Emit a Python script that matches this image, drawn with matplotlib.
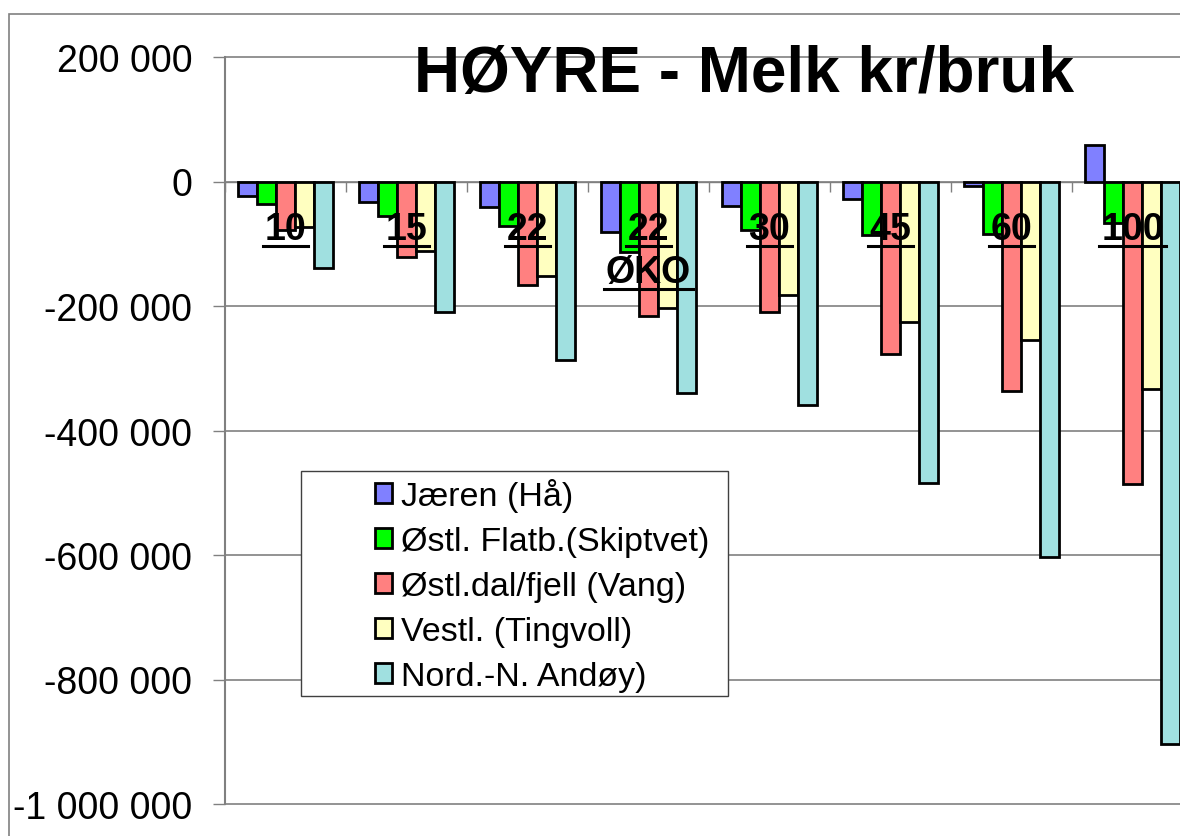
import matplotlib
matplotlib.use("Agg")
import matplotlib.pyplot as plt
import numpy as np
from matplotlib.lines import Line2D
from matplotlib.patches import Rectangle
from matplotlib.transforms import IdentityTransform

plt.rcParams['font.family'] = ['Liberation Sans', 'DejaVu Sans']

# data (kr/bruk)
categories = ["10", "15", "22", "22\nØKO", "30", "45", "60", "100"]
series_names = ["Jæren (Hå)", "Østl. Flatb.(Skiptvet)", "Østl.dal/fjell (Vang)",
                "Vestl. (Tingvoll)", "Nord.-N. Andøy)"]
jaeren = [-23600, -33200, -40700, -81400, -38600, -27800, -7500, 58300]
ostl_flatb = [-35400, -55700, -70700, -113600, -78700, -85700, -83600, -66000]
ostl_dal = [-78200, -121000, -166600, -216400, -210000, -277000, -336000, -486000]
vestl = [-73400, -112000, -152100, -203000, -181600, -225000, -255000, -333000]
nord_n = [-138700, -209400, -287500, -340000, -359000, -484000, -603000, -904000]
series = [jaeren, ostl_flatb, ostl_dal, vestl, nord_n]
colors = ["#8080FF", "#00FF00", "#FF8080", "#FFFFC0", "#A0E0E0"]
title = "HØYRE - Melk kr/bruk"

W, H = 1180, 837
fig = plt.figure(figsize=(W / 100, H / 100), dpi=100)
ax = fig.add_axes([225 / W, 1 - 805 / H, (1193 - 225) / W, (805 - 58) / H])

x = np.arange(len(categories))
width = 0.157
bars = []
for k, (vals, col, name) in enumerate(zip(series, colors, series_names)):
    b = ax.bar(x + (k - 2) * width, vals, width, color=col, edgecolor="black",
               linewidth=2, label=name, zorder=3)
    bars.append(b)

ax.set_xlim(-0.5, len(categories) - 0.5)
ax.set_ylim(-1000000, 200000)
yt = np.arange(-1000000, 200001, 200000)
ax.set_yticks(yt)
ax.set_yticklabels([f"{v:,.0f}".replace(",", " ") for v in yt])
ax.set_xticks(np.arange(-0.5, len(categories), 1))
ax.set_xticklabels([])

ax.yaxis.grid(True, color="#808080", linewidth=1.2)
ax.set_axisbelow(True)
for gl in ax.get_ygridlines():
    gl.set_clip_on(False)
for s in ["top", "right"]:
    ax.spines[s].set_visible(False)
ax.spines["left"].set_color("#808080")
ax.spines["left"].set_linewidth(1.5)
ax.spines["bottom"].set_position(("data", 0))
ax.spines["bottom"].set_color("#808080")
ax.spines["bottom"].set_linewidth(1)
ax.tick_params(axis="y", direction="out", length=8.6, width=1, color="#808080",
               pad=15, labelsize=27)
ax.tick_params(axis="x", direction="out", length=7.2, width=1, color="#808080")

fig.text(743.5 / W, 1 - 92 / H, title, ha="center", va="baseline",
         fontsize=46, fontweight="bold")

# category labels, underlined
cat_texts = []
for i, cat in enumerate(categories):
    for j, line in enumerate(cat.split("\n")):
        t = ax.annotate(line, (i, 0), xytext=(0, -(58 + 43 * j) * 0.72),
                        textcoords="offset points", ha="center", va="baseline",
                        fontsize=27, fontweight="bold", zorder=6)
        cat_texts.append((t, i, j))

fig.canvas.draw()
renderer = fig.canvas.get_renderer()
for t, i, j in cat_texts:
    bb = t.get_window_extent(renderer)
    y0 = ax.transData.transform((i, 0))[1] - (58 + 43 * j) - 6
    fig.add_artist(Line2D([bb.x0 - 2, bb.x1 + 2], [y0, y0], transform=IdentityTransform(),
                          color="black", linewidth=2.2, zorder=6))

# legend box
fig.add_artist(Rectangle((301 / W, 1 - 697 / H), 427 / W, 225 / H, transform=fig.transFigure,
                         facecolor="white", edgecolor="#404040", linewidth=1, zorder=4))
fig.legend(handles=bars, labels=series_names, loc="upper left",
           bbox_to_anchor=(375 / W, 1 - 479 / H), frameon=False, fontsize=24.5,
           handlelength=0.51, handleheight=0.51, handletextpad=0.24,
           labelspacing=0.41, borderpad=0, borderaxespad=0)

# outer chart border
fig.add_artist(Rectangle((9 / W, -0.5), 2, 0.5 + 1 - 15 / H, transform=fig.transFigure,
                         fill=False, edgecolor="#808080", linewidth=1.2, zorder=1))

fig.savefig("out.png", dpi=100)
